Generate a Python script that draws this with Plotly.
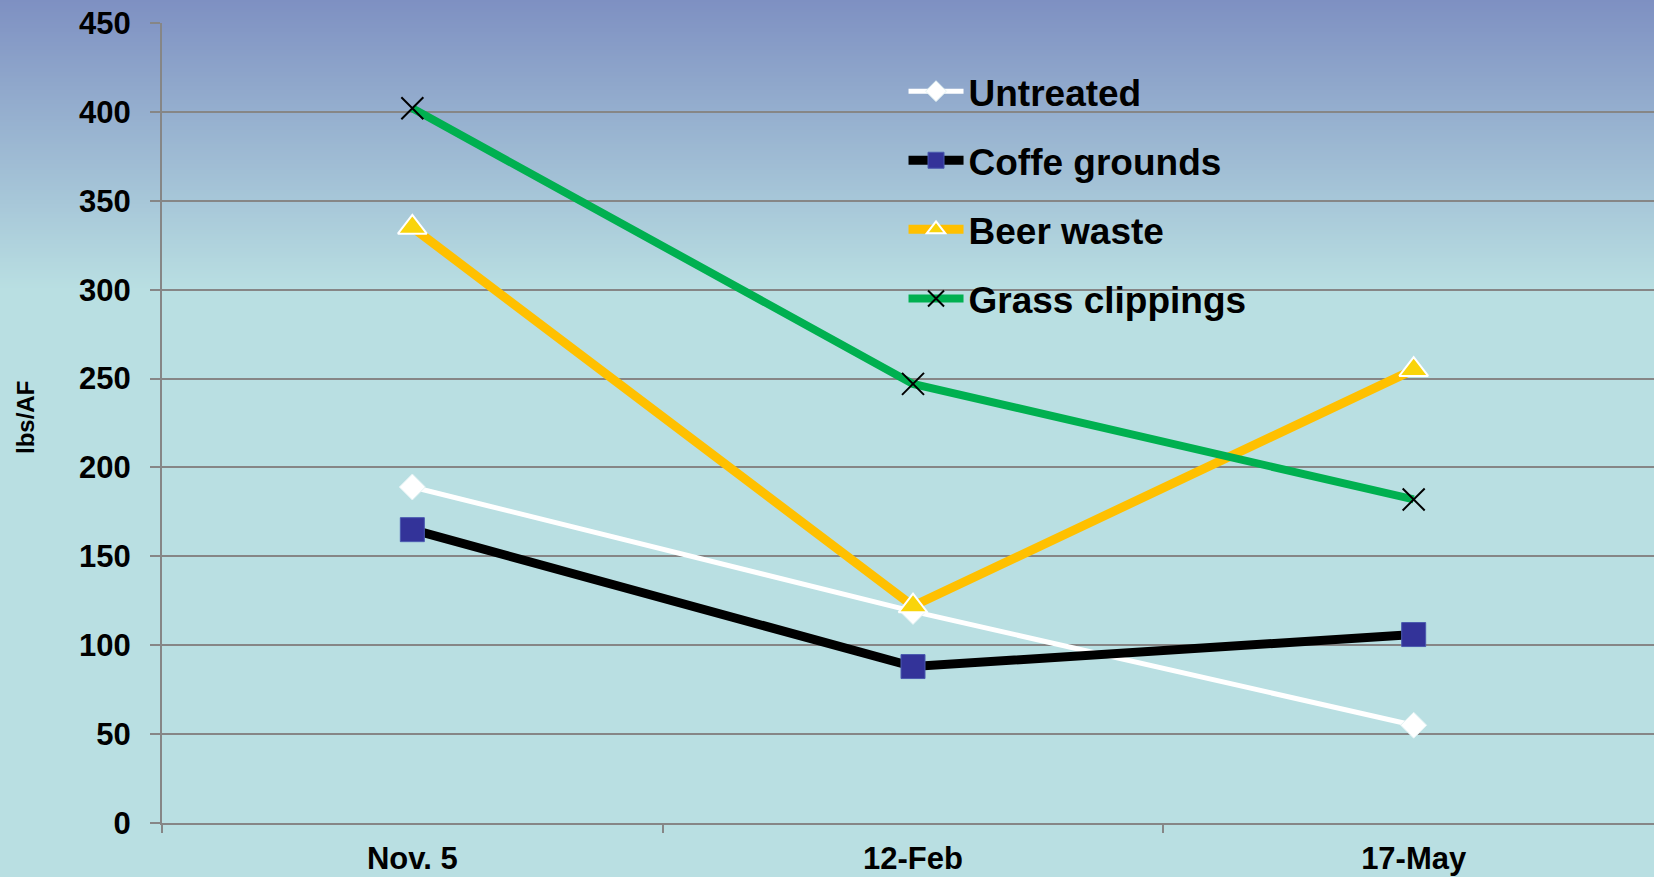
import plotly.graph_objects as go

# Sampling dates and measured concentrations (lbs/AF)
dates = ["Nov. 5", "12-Feb", "17-May"]
untreated = [189, 119, 55]
coffee_grounds = [165, 88, 106]
beer_waste = [335, 122, 255]
grass_clippings = [402, 247, 182]

y_ticks = [0, 50, 100, 150, 200, 250, 300, 350, 400, 450]

FONT = "Liberation Sans, Arial, sans-serif"

fig = go.Figure()

fig.add_trace(go.Scatter(
    x=dates, y=untreated, name="Untreated", mode="lines+markers",
    legendgroup="a",
    line=dict(color="white", width=5),
    marker=dict(symbol="diamond", size=20, color="white",
                line=dict(color="#E4F3F4", width=1)),
))
fig.add_trace(go.Scatter(
    x=dates, y=coffee_grounds, name="Coffe grounds", mode="lines+markers",
    legendgroup="b",
    line=dict(color="black", width=9),
    marker=dict(symbol="square", size=24, color="#333399",
                line=dict(color="#4A5AB0", width=1)),
))
fig.add_trace(go.Scatter(
    x=dates, y=beer_waste, name="Beer waste", mode="lines+markers",
    legendgroup="c",
    line=dict(color="#FFC000", width=9),
    marker=dict(symbol="triangle-up", size=25, color="#F9D40B",
                line=dict(color="white", width=2)),
))
fig.add_trace(go.Scatter(
    x=dates, y=grass_clippings, name="Grass clippings", mode="lines+markers",
    legendgroup="d",
    line=dict(color="#00B050", width=8),
    marker=dict(symbol="x-thin", size=22, color="black",
                line=dict(color="black", width=2)),
))

# Vertical background gradient (blue at the top fading to pale cyan)
W, H = 1654, 877
L, R, T, B = 162, 0, 23, 54
plot_h = H - T - B
plot_w = W - L - R
top_rgb = (126, 144, 194)
bot_rgb = (185, 223, 226)
grad_px = 290
step = 2
shapes = []
for yp in range(0, grad_px, step):
    f = (yp + step / 2) / grad_px
    c = tuple(round(a + (b - a) * f) for a, b in zip(top_rgb, bot_rgb))
    shapes.append(dict(
        type="rect", xref="paper", yref="paper", layer="below",
        x0=-L / plot_w, x1=1 + 0.01,
        y0=(H - B - (yp + step + 1)) / plot_h, y1=(H - B - yp) / plot_h,
        fillcolor="rgb(%d,%d,%d)" % c, line=dict(width=0),
    ))

grid_col = "#868686"

fig.update_layout(
    width=W, height=H,
    margin=dict(l=L, r=R, t=T, b=B, pad=0, autoexpand=False),
    paper_bgcolor="rgb(%d,%d,%d)" % bot_rgb,
    plot_bgcolor="rgba(0,0,0,0)",
    shapes=shapes,
    font=dict(family=FONT, color="black"),
    showlegend=True,
    legend=dict(
        x=0.497, y=0.953, xanchor="left", yanchor="top",
        bgcolor="rgba(0,0,0,0)", borderwidth=0,
        font=dict(size=37, family=FONT, weight="bold", color="black"),
        traceorder="grouped", tracegroupgap=18,
        itemwidth=55,
    ),
    xaxis=dict(
        type="category", categoryorder="array", categoryarray=dates,
        range=[-0.5, 2.48],
        showgrid=False, zeroline=False,
        showline=True, linecolor=grid_col, linewidth=2,
        ticks="outside", ticklen=8, tickwidth=2, tickcolor=grid_col,
        tickson="boundaries",
        tickfont=dict(size=31, family=FONT, weight="bold", color="black"),
        ticklabelstandoff=7,
    ),
    yaxis=dict(
        range=[0, 450], tickvals=y_ticks,
        showgrid=True, gridcolor=grid_col, gridwidth=2,
        zeroline=False,
        showline=True, linecolor=grid_col, linewidth=2,
        ticks="outside", ticklen=10, tickwidth=2, tickcolor=grid_col,
        tickfont=dict(size=31, family=FONT, weight="bold", color="black"),
        ticklabelstandoff=13,
    ),
    annotations=[dict(
        text="lbs/AF", textangle=-90, showarrow=False,
        xref="paper", yref="paper",
        x=(25 - L) / plot_w, y=(H - B - 418) / plot_h,
        xanchor="center", yanchor="middle",
        font=dict(size=24, family=FONT, weight="bold", color="black"),
    )],
)

fig.write_html("out.html")
